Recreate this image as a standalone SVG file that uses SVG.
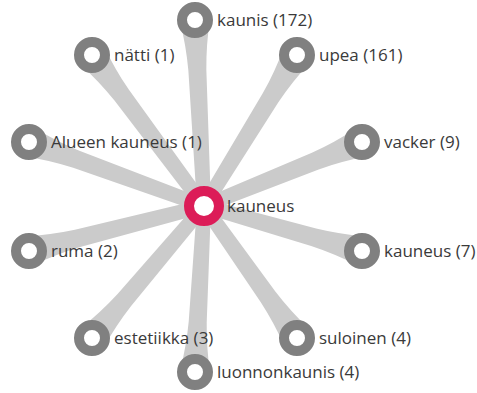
<svg xmlns="http://www.w3.org/2000/svg" width="477" height="393" viewBox="0 0 477 393">
<style>
.edge{fill:#cbcbcb}
.leaf{fill:#fff;stroke:#808080;stroke-width:10}
.hub{fill:#fff;stroke:#dc1c58;stroke-width:10}
.lbl{font-family:"Open Sans","Noto Sans","Liberation Sans",sans-serif;font-size:17px;fill:#3a3a3a}
</style>
<rect width="477" height="393" fill="#fff"/>
<g id="connectors">
<path class="edge" transform="translate(204,206) rotate(-92.8)" d="M0,-7 L136,-9 Q161,-10 186,-15 L186,15 Q161,10 136,9 L0,7 Z"/>
<path class="edge" transform="translate(204,206) rotate(-126.6)" d="M0,-7 L138,-9 Q163,-10 188,-15 L188,15 Q163,10 138,9 L0,7 Z"/>
<path class="edge" transform="translate(204,206) rotate(-58.4)" d="M0,-7 L127,-9 Q152,-10 177,-15 L177,15 Q152,10 127,9 L0,7 Z"/>
<path class="edge" transform="translate(204,206) rotate(-159.9)" d="M0,-7 L136,-9 Q161,-10 186,-15 L186,15 Q161,10 136,9 L0,7 Z"/>
<path class="edge" transform="translate(204,206) rotate(-22)" d="M0,-7 L120,-9 Q145,-10 170,-15 L170,15 Q145,10 120,9 L0,7 Z"/>
<path class="edge" transform="translate(204,206) rotate(165.6)" d="M0,-7 L131,-9 Q156,-10 181,-15 L181,15 Q156,10 131,9 L0,7 Z"/>
<path class="edge" transform="translate(204,206) rotate(15.9)" d="M0,-7 L114,-9 Q139,-10 164,-15 L164,15 Q139,10 114,9 L0,7 Z"/>
<path class="edge" transform="translate(204,206) rotate(130.3)" d="M0,-7 L123,-9 Q148,-10 173,-15 L173,15 Q148,10 123,9 L0,7 Z"/>
<path class="edge" transform="translate(204,206) rotate(54.8)" d="M0,-7 L111,-9 Q136,-10 161,-15 L161,15 Q136,10 111,9 L0,7 Z"/>
<path class="edge" transform="translate(204,206) rotate(93.1)" d="M0,-7 L116,-9 Q141,-10 166,-15 L166,15 Q141,10 116,9 L0,7 Z"/>
</g>
<g id="node-kaunis"><circle class="leaf" cx="195" cy="20" r="13"/><text class="lbl" x="217" y="26">kaunis (172)</text></g>
<g id="node-natti"><circle class="leaf" cx="92" cy="55" r="13"/><text class="lbl" x="114" y="61">nätti (1)</text></g>
<g id="node-upea"><circle class="leaf" cx="297" cy="55" r="13"/><text class="lbl" x="319" y="61">upea (161)</text></g>
<g id="node-alueen"><circle class="leaf" cx="29" cy="142" r="13"/><text class="lbl" x="51" y="148">Alueen kauneus (1)</text></g>
<g id="node-vacker"><circle class="leaf" cx="362" cy="142" r="13"/><text class="lbl" x="384" y="148">vacker (9)</text></g>
<g id="node-ruma"><circle class="leaf" cx="29" cy="251" r="13"/><text class="lbl" x="51" y="257">ruma (2)</text></g>
<g id="node-kauneus7"><circle class="leaf" cx="362" cy="251" r="13"/><text class="lbl" x="384" y="257">kauneus (7)</text></g>
<g id="node-estetiikka"><circle class="leaf" cx="92" cy="338" r="13"/><text class="lbl" x="114" y="344">estetiikka (3)</text></g>
<g id="node-suloinen"><circle class="leaf" cx="297" cy="338" r="13"/><text class="lbl" x="319" y="344">suloinen (4)</text></g>
<g id="node-luonnonkaunis"><circle class="leaf" cx="195" cy="372" r="13"/><text class="lbl" x="217" y="378">luonnonkaunis (4)</text></g>
<g id="node-kauneus"><circle class="hub" cx="204" cy="206" r="15"/><text class="lbl" x="227" y="212">kauneus</text></g>
</svg>
